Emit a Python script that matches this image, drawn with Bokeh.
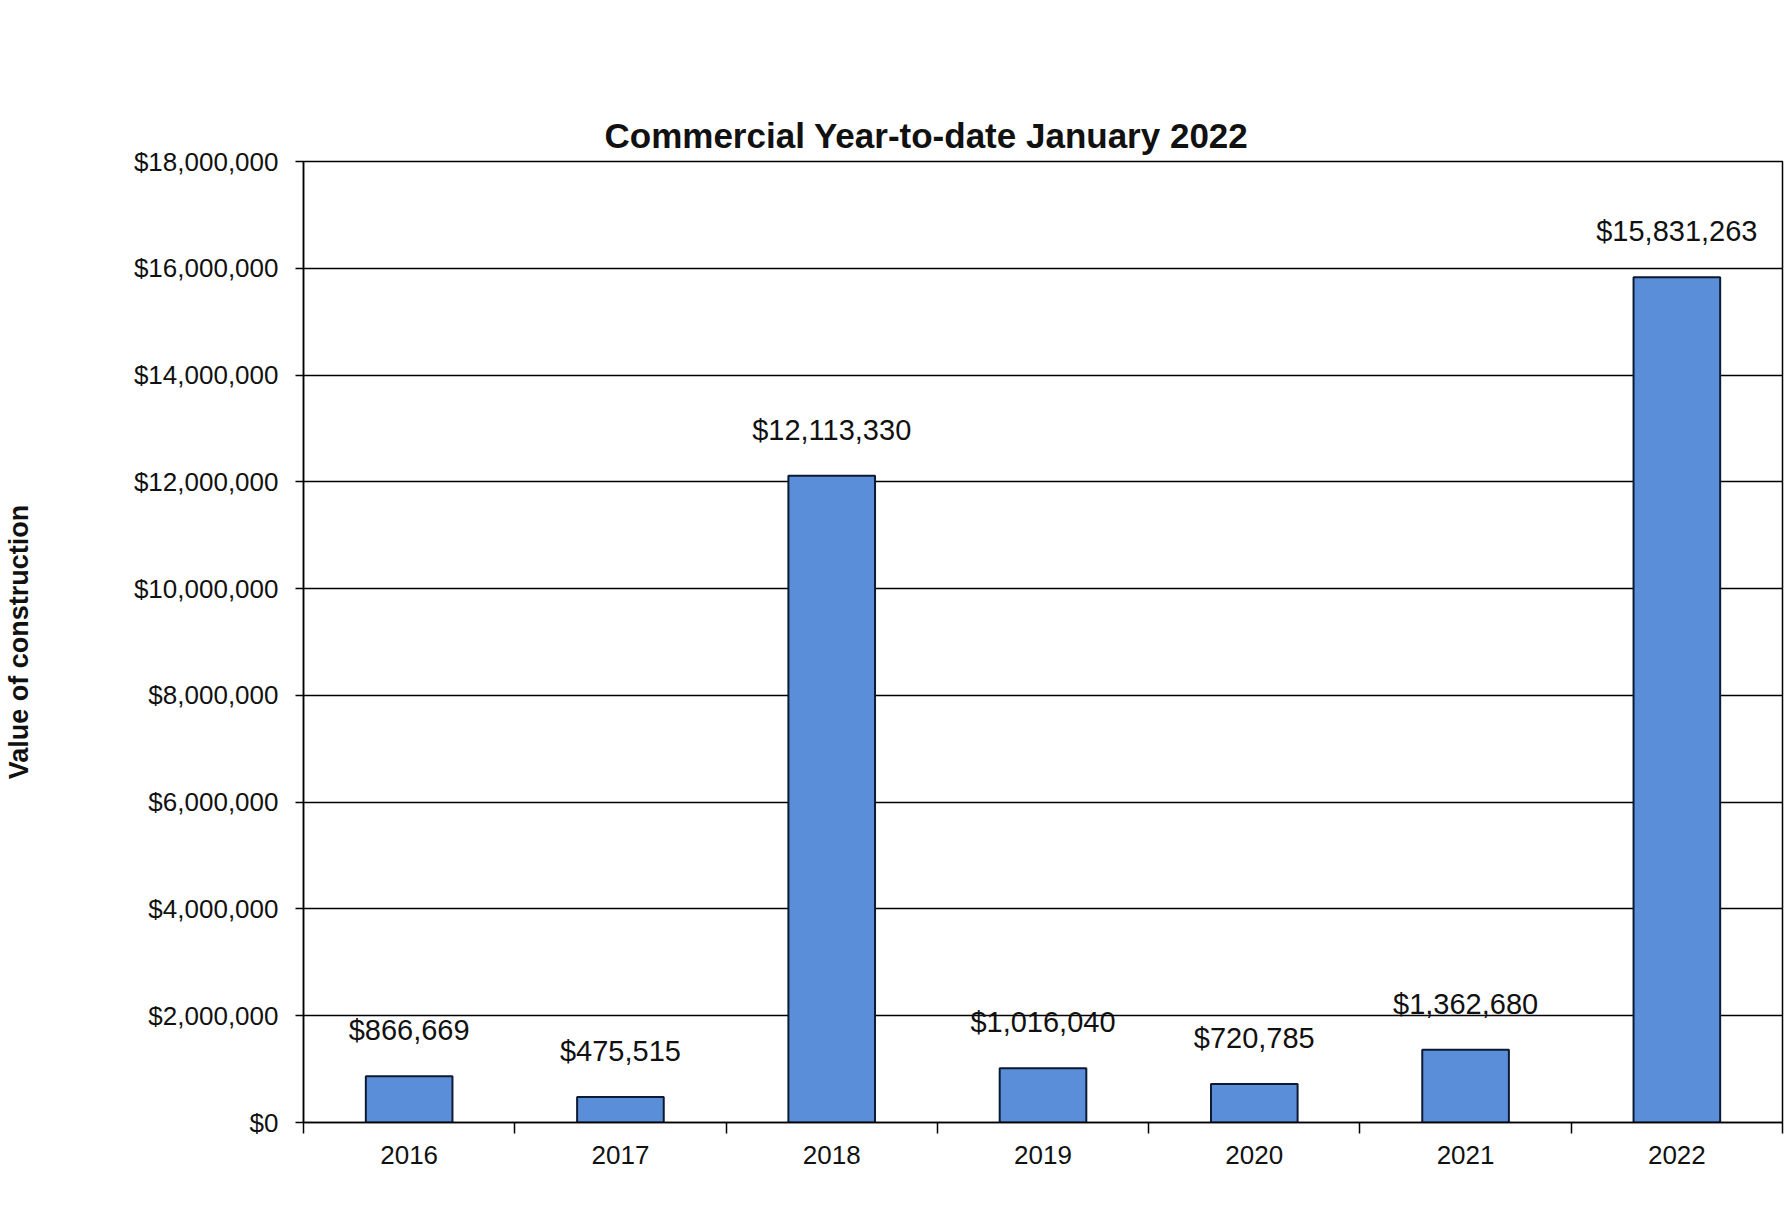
from bokeh.plotting import figure
from bokeh.models import (ColumnDataSource, FixedTicker, NumeralTickFormatter, Range1d,
                          Title, LabelSet, LinearAxis)
from bokeh.core.properties import value
from bokeh.embed import file_html
from bokeh.resources import INLINE

years = ["2016", "2017", "2018", "2019", "2020", "2021", "2022"]
values = [866669, 475515, 12113330, 1016040, 720785, 1362680, 15831263]
labels = ["$866,669", "$475,515", "$12,113,330", "$1,016,040", "$720,785", "$1,362,680", "$15,831,263"]
y_ticks = [0, 2000000, 4000000, 6000000, 8000000, 10000000, 12000000, 14000000, 16000000, 18000000]
title_text = "Commercial Year-to-date January 2022"
y_title = "Value of construction"

FONT = "Liberation Sans"

xpos = [i + 0.5 for i in range(len(years))]
src = ColumnDataSource(dict(x=xpos, top=values, label=labels))

p = figure(width=1784, height=1215, output_backend="svg", toolbar_location=None,
           x_range=Range1d(0, len(years)), y_range=Range1d(0, y_ticks[-1]))
p.min_border_left = 301
p.min_border_right = 2
p.min_border_bottom = 93
p.min_border_top = 161
p.background_fill_color = "white"
p.border_fill_color = "white"
p.outline_line_color = "black"
p.outline_line_width = 1.5

p.add_layout(Title(text=title_text, align="left", offset=301, vertical_align="top",
                   standoff=10, text_font=FONT, text_font_size="35px",
                   text_font_style="bold", text_color="#111111"), "above")

# empty spacer between the frame and the title (no ticks, white tick style)
spacer = LinearAxis(ticker=FixedTicker(ticks=[]), axis_line_color=None,
                    major_tick_line_color="white", minor_tick_line_color="white",
                    major_tick_out=88, minor_tick_out=0, major_tick_in=0,
                    major_label_standoff=0)
p.add_layout(spacer, "above")

p.vbar(x="x", top="top", width=0.41, source=src, fill_color="#5b8ed8",
       line_color="#0d1a33", line_width=2)

lab = LabelSet(x="x", y="top", text="label", source=src, text_align="center",
               text_baseline="middle", y_offset=46, text_font=value(FONT),
               text_font_size=value("29px"), text_color="#111111")
p.add_layout(lab)

# x axis
xa = p.below[0]
xa.ticker = FixedTicker(ticks=xpos, minor_ticks=list(range(len(years) + 1)))
xa.major_label_overrides = {x: y for x, y in zip(xpos, years)}
xa.major_tick_out = 0
xa.major_tick_in = 0
xa.minor_tick_out = 11
xa.minor_tick_in = 0
xa.minor_tick_line_color = "black"
xa.minor_tick_line_width = 1.5
xa.major_label_standoff = 12
xa.axis_line_color = "black"
xa.axis_line_width = 1.5
xa.major_label_text_font = FONT
xa.major_label_text_font_size = "26px"
xa.major_label_text_color = "#111111"
p.xgrid.visible = False

# y axis
p.yaxis.ticker = FixedTicker(ticks=y_ticks, minor_ticks=[])
p.yaxis.formatter = NumeralTickFormatter(format="$0,0")
p.yaxis.major_tick_out = 8
p.yaxis.major_tick_in = 0
p.yaxis.major_tick_line_color = "black"
p.yaxis.major_tick_line_width = 1.5
p.yaxis.minor_tick_line_color = None
p.yaxis.major_label_standoff = 17
p.yaxis.axis_line_color = "black"
p.yaxis.axis_line_width = 1.5
p.yaxis.major_label_text_font = FONT
p.yaxis.major_label_text_font_size = "26px"
p.yaxis.major_label_text_color = "#111111"
p.yaxis.axis_label = y_title
p.yaxis.axis_label_text_font = FONT
p.yaxis.axis_label_text_font_size = "27px"
p.yaxis.axis_label_text_font_style = "bold"
p.yaxis.axis_label_text_color = "#111111"
p.yaxis.axis_label_standoff = 97
p.ygrid.grid_line_color = "black"
p.ygrid.grid_line_width = 1.5

open("out.html", "w").write(file_html(p, INLINE))
